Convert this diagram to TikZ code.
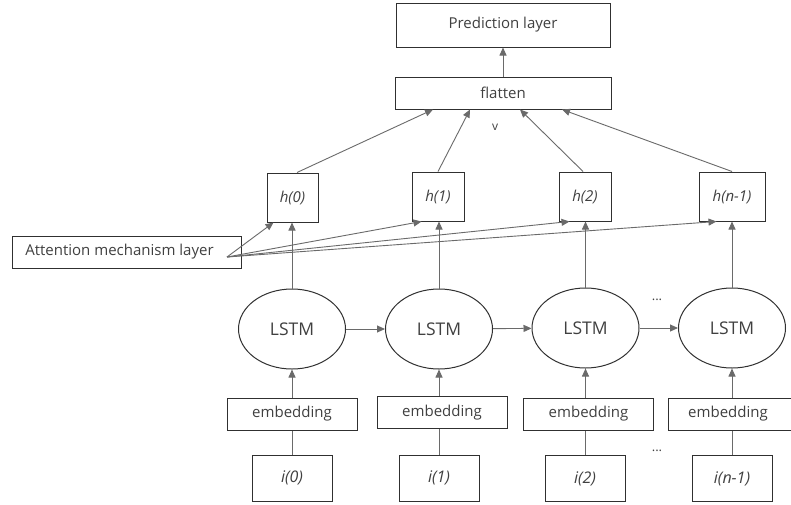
\documentclass[tikz,border=0pt]{standalone}
\usepackage{fontspec}
\setmainfont{Open Sans}
\usetikzlibrary{arrows.meta,shapes.geometric,calc}
\definecolor{txt}{HTML}{404040}
\definecolor{bord}{HTML}{303030}
\definecolor{conn}{HTML}{6A6A6A}
\tikzset{
  box/.style={draw=bord, line width=1pt, inner sep=0pt, text=txt, font=\fontsize{15}{18}\selectfont},
  lstm/.style={draw=bord, line width=1pt, ellipse, inner sep=0pt, minimum width=107pt, minimum height=80pt, text=txt, font=\fontsize{17.5}{20}\selectfont},
  conn/.style={draw=conn, line width=0.9pt},
  arr/.style={conn, -{Triangle[length=8pt,width=7pt]}},
  hbox/.style={box, minimum height=49pt, font=\fontsize{15}{18}\selectfont\itshape},
  ebox/.style={box, minimum width=130pt, minimum height=32pt},
  ibox/.style={box, minimum width=80pt, minimum height=46pt, font=\fontsize{16}{18}\selectfont\itshape}
}
\begin{document}
\begin{tikzpicture}[x=1pt,y=-1pt]
\clip (0,0) rectangle (791,504);
\fill[white] (0,0) rectangle (791,504);
% top
\node[box, minimum width=214pt, minimum height=44pt] (pred) at (503,25) {Prediction layer};
\node[box, minimum width=216pt, minimum height=32pt] (flat) at (503,93) {flatten};
\node[text=txt, font=\fontsize{12}{14}\selectfont, inner sep=0pt] (v) at (495,127) {v};
% h boxes
\node[hbox, minimum width=51pt] (h0) at (292.5,197.5) {h(0)};
\node[hbox, minimum width=52pt] (h1) at (438,196.5) {h(1)};
\node[hbox, minimum width=52pt] (h2) at (585,196.5) {h(2)};
\node[hbox, minimum width=66pt] (h3) at (732,196.5) {h(n-1)};
% attention
\node[box, minimum width=229pt, minimum height=32pt] (att) at (126.5,252) {Attention mechanism layer\hspace*{14pt}};
\coordinate (attout) at (227,257);
% LSTM
\node[lstm] (l0) at (292,329) {LSTM};
\node[lstm] (l1) at (439,329) {LSTM};
\node[lstm] (l2) at (585.5,328) {LSTM};
\node[lstm] (l3) at (732,328) {LSTM};
\node[text=txt, font=\fontsize{13}{14}\selectfont, inner sep=0pt] (dots1) at (657,300) {...};
% embedding
\node[ebox] (e0) at (292,414) {embedding};
\node[ebox] (e1) at (442,412.5) {embedding};
\node[ebox] (e2) at (588.5,414) {embedding};
\node[ebox] (e3) at (733,414) {\hspace*{-10pt}embedding};
% inputs
\node[ibox] (i0) at (292,478) {i(0)};
\node[ibox] (i1) at (439,478) {i(1)};
\node[ibox] (i2) at (585,478.5) {i(2)};
\node[ibox] (i3) at (732,478.5) {i(n-1)};
\node[text=txt, font=\fontsize{13}{14}\selectfont, inner sep=0pt] (dots2) at (657,451) {...};
% connectors
\draw[arr] (flat) -- (pred);
\draw[arr] ([xshift=4.5pt]h0.north) -- ([xshift=-70pt]flat.south);
\draw[arr] (h1.north) -- ([xshift=-33pt]flat.south);
\draw[arr] ([xshift=-2pt]h2.north) -- ([xshift=17pt]flat.south);
\draw[arr] (h3.north) -- ([xshift=59pt]flat.south);
\draw[arr] (attout) -- ([xshift=7pt]h0.south west);
\draw[arr] (attout) -- ([xshift=10pt]h1.south west);
\draw[arr] (attout) -- ([xshift=11pt]h2.south west);
\draw[arr] (attout) -- ([xshift=18pt]h3.south west);
\foreach \k in {0,1,2,3}{
  \draw[arr] (l\k.north) -- (h\k.south -| l\k.north);
}
\draw[arr] (l0) -- (l1);
\draw[arr] (l1) -- (l2);
\draw[arr] (l2) -- (l3);
\foreach \k in {0,1,2,3}{
  \draw[arr] (e\k.north -| l\k.south) -- (l\k.south);
  \draw[conn] (i\k.north -| l\k.south) -- (e\k.south -| l\k.south);
}
\end{tikzpicture}
\end{document}
